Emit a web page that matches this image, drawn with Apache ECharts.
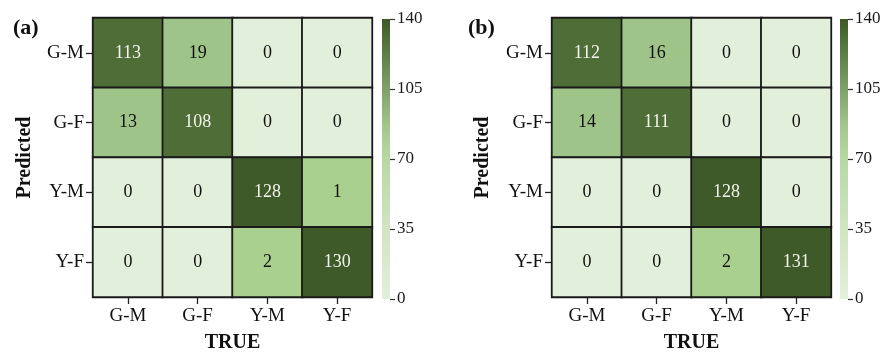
<!DOCTYPE html>
<html>
<head>
<meta charset="utf-8">
<script src="https://cdn.jsdelivr.net/npm/echarts@6/dist/echarts.min.js"></script>
<style>
  html, body { margin: 0; padding: 0; background: #fff; }
  #chart { width: 883px; height: 353px; }
</style>
</head>
<body>
<div id="chart"></div>
<script>
// Class labels (true on x, predicted on y)
const classes = ['G-M', 'G-F', 'Y-M', 'Y-F'];

// Confusion matrices, rows = predicted class, columns = true class
const matrixA = [
  [113, 19, 0, 0],
  [13, 108, 0, 0],
  [0, 0, 128, 1],
  [0, 0, 2, 130]
];
const matrixB = [
  [112, 16, 0, 0],
  [14, 111, 0, 0],
  [0, 0, 128, 0],
  [0, 0, 2, 131]
];

// Colour bar scale
const scaleMax = 140;
const scaleTicks = 35;
const panelTitles = ['(a)', '(b)'];

const FONT = '"Liberation Serif", "Times New Roman", serif';

function toCells(m) {
  const out = [];
  m.forEach((row, r) => row.forEach((v, c) => out.push([c, r, v])));
  return out;
}

// Panel placement
const panels = [
  { gridLeft: 93, barLeft: 382, titleLeft: 8, nameGap: 58 },
  { gridLeft: 552, barLeft: 840, titleLeft: 463, nameGap: 59 }
];
const gridTop = 18, gridSize = 279;

const grids = [], xAxes = [], yAxes = [], series = [], titles = [];

panels.forEach((p, i) => {
  // heatmap grid
  grids.push({ left: p.gridLeft, top: gridTop, width: gridSize, height: gridSize, outerBoundsMode: 'none', containLabel: false });
  xAxes.push({
    type: 'category', gridIndex: grids.length - 1, data: classes,
    position: 'bottom',
    axisLine: { show: false },
    axisTick: { show: true, alignWithLabel: true, length: 7, lineStyle: { color: '#222', width: 1.3 } },
    axisLabel: { fontFamily: FONT, fontSize: 19, color: '#111', margin: 10 },
    name: 'TRUE', nameLocation: 'middle', nameGap: 36,
    nameTextStyle: { fontFamily: FONT, fontSize: 20, fontWeight: 'bold', color: '#111' },
    splitLine: { show: false }
  });
  yAxes.push({
    type: 'category', gridIndex: grids.length - 1, data: classes, inverse: true,
    axisLine: { show: false },
    axisTick: { show: true, alignWithLabel: true, length: 7, lineStyle: { color: '#222', width: 1.3 } },
    axisLabel: { fontFamily: FONT, fontSize: 19, color: '#111', margin: 9 },
    name: 'Predicted', nameLocation: 'middle', nameGap: p.nameGap, nameRotate: 90,
    nameTextStyle: { fontFamily: FONT, fontSize: 20, fontWeight: 'bold', color: '#111' },
    splitLine: { show: false }
  });
  const hmIdx = grids.length - 1;
  series.push({
    type: 'heatmap',
    xAxisIndex: hmIdx, yAxisIndex: hmIdx,
    data: toCells(i === 0 ? matrixA : matrixB),
    itemStyle: { borderColor: '#1a1a1a', borderWidth: 1.8 },
    label: {
      show: true,
      formatter: (d) => (d.value[2] > 60 ? '{w|' : '{k|') + d.value[2] + '}',
      rich: {
        w: { fontFamily: FONT, fontSize: 18, color: '#f4f4ee' },
        k: { fontFamily: FONT, fontSize: 18, color: '#111' }
      }
    },
    emphasis: { disabled: true }
  });

  // colour bar grid
  grids.push({ left: p.barLeft, top: 19, width: 8, height: 280, outerBoundsMode: 'none', containLabel: false });
  xAxes.push({
    type: 'category', gridIndex: grids.length - 1, data: [''],
    show: false
  });
  yAxes.push({
    type: 'value', gridIndex: grids.length - 1, min: 0, max: scaleMax, interval: scaleTicks,
    position: 'right',
    axisLine: { show: false },
    axisTick: { show: true, length: 5, lineStyle: { color: '#333', width: 1.2 } },
    axisLabel: { fontFamily: FONT, fontSize: 17, color: '#1a1a1a', margin: 7 },
    splitLine: { show: false }
  });
  const cbIdx = grids.length - 1;
  series.push({
    type: 'bar',
    xAxisIndex: cbIdx, yAxisIndex: cbIdx,
    data: [scaleMax],
    barWidth: '100%',
    silent: true,
    itemStyle: {
      color: new echarts.graphic.LinearGradient(0, 1, 0, 0, [
        { offset: 0, color: '#e3efdb' },
        { offset: 0.25, color: '#d0e5c3' },
        { offset: 0.5, color: '#b8d8a4' },
        { offset: 0.62, color: '#a3c68d' },
        { offset: 0.75, color: '#7fa06a' },
        { offset: 0.88, color: '#5c7d45' },
        { offset: 1, color: '#3d5a27' }
      ])
    }
  });

  titles.push({
    text: panelTitles[i], left: p.titleLeft, top: 12,
    textStyle: { fontFamily: FONT, fontSize: 22, fontWeight: 'bold', color: '#111' }
  });
});

const chart = echarts.init(document.getElementById('chart'), null, { renderer: 'canvas' });
chart.setOption({
  animation: false,
  backgroundColor: '#fff',
  title: titles,
  grid: grids,
  xAxis: xAxes,
  yAxis: yAxes,
  visualMap: {
    type: 'piecewise',
    show: false,
    seriesIndex: [0, 2],
    dimension: 2,
    pieces: [
      { value: 0, color: '#e2efda' },
      { gte: 1, lte: 5, color: '#a9d08e' },
      { gt: 5, lte: 40, color: '#9fc489' },
      { gt: 40, lte: 120, color: '#4e6d37' },
      { gt: 120, color: '#3e5a28' }
    ]
  },
  series: series
});
</script>
</body>
</html>
